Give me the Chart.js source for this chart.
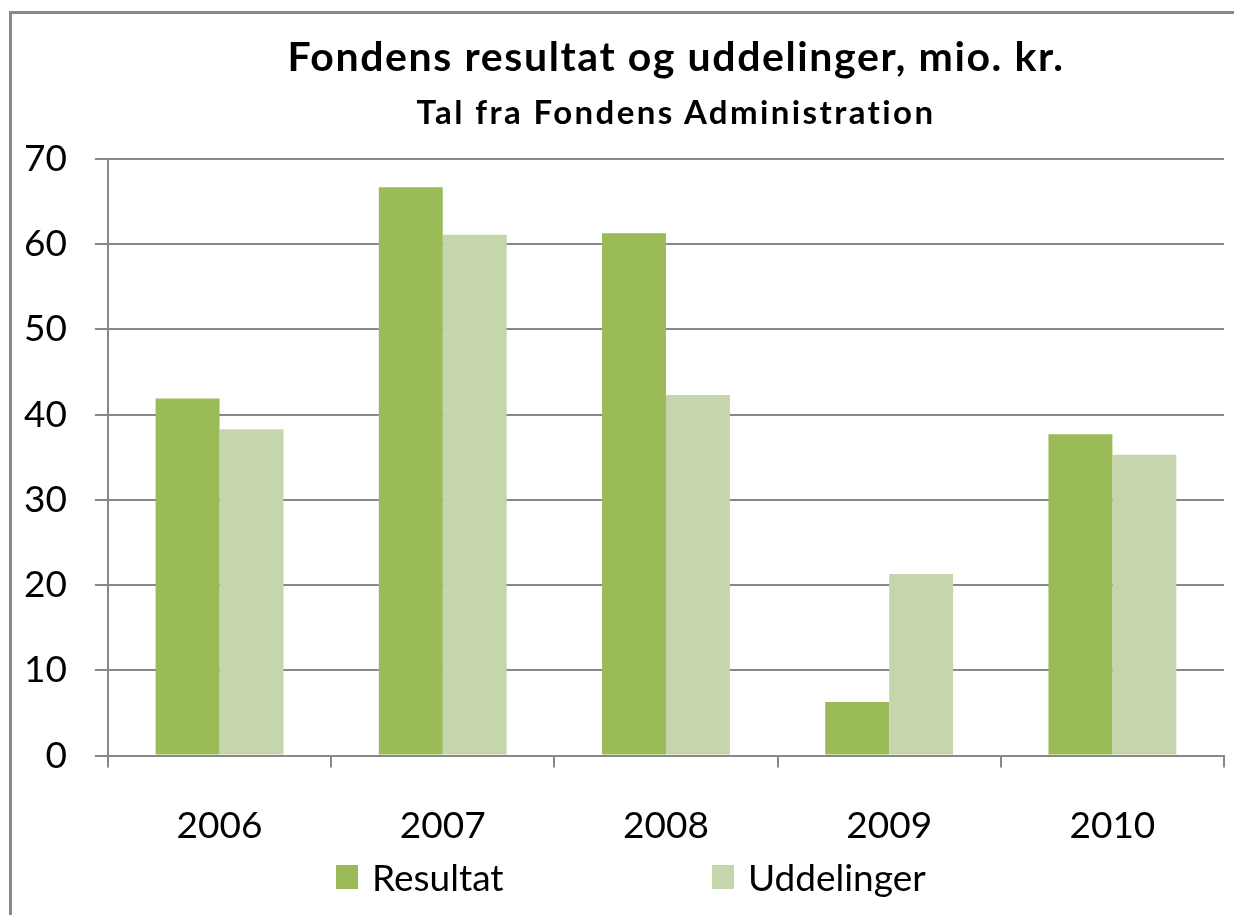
<!DOCTYPE html>
<html lang="da">
<head>
  <meta charset="UTF-8" />
  <title>Fondens resultat og uddelinger</title>
  <script src="https://cdn.jsdelivr.net/npm/chart.js"></script>
  <style>
    body { margin: 0; background: #fff; font-family: Lato, sans-serif; }
    #wrap { position: relative; width: 1234px; height: 915px; overflow: hidden; }
    #frame { position: absolute; left: 9px; top: 11px; width: 1300px; height: 1000px;
             border-left: 3px solid #888; border-top: 3px solid #888; }
    .ttl { position: absolute; left: 0; width: 1352px; text-align: center; font-weight: bold; color: #000; white-space: nowrap; }
    #t1 { top: 31px; font-size: 41px; letter-spacing: 1.6px; }
    #t2 { top: 91px; font-size: 33px; letter-spacing: 2.4px; }
    #box { position: absolute; left: 0; top: 0; width: 1234px; height: 915px; }
    .leg { position: absolute; top: 853px; font-size: 37px; line-height: 48px; color: #000; white-space: nowrap; }
    .leg i { position: absolute; top: 12px; width: 22px; height: 24px; }
    .leg span { position: absolute; left: 36px; top: 0; }
  </style>
</head>
<body>
  <div id="wrap">
    <div id="frame"></div>
    <div id="box"><canvas id="chart"></canvas></div>
    <div class="ttl" id="t1">Fondens resultat og uddelinger, mio. kr.</div>
    <div class="ttl" id="t2">Tal fra Fondens Administration</div>
    <div id="legend"></div>
  </div>
  <script>
    const years = ['2006', '2007', '2008', '2009', '2010'];
    const resultat = [41.9, 66.7, 61.3, 6.3, 37.7];
    const uddelinger = [38.3, 61.1, 42.3, 21.3, 35.3];
    const yTicks = [0, 10, 20, 30, 40, 50, 60, 70];
    const seriesNames = ['Resultat', 'Uddelinger'];
    const seriesColors = ['#9BBB59', '#C6D6AC'];
    const legendX = [336, 712];

    Chart.defaults.font.family = 'Lato, sans-serif';
    Chart.defaults.color = '#000';

    const chart = new Chart(document.getElementById('chart'), {
      type: 'bar',
      data: {
        labels: years,
        datasets: [
          { label: seriesNames[0], data: resultat, backgroundColor: seriesColors[0] },
          { label: seriesNames[1], data: uddelinger, backgroundColor: seriesColors[1] }
        ]
      },
      options: {
        responsive: true,
        maintainAspectRatio: false,
        animation: false,
        datasets: { bar: { categoryPercentage: 0.573, barPercentage: 1 } },
        layout: { padding: { left: -4, right: 10, top: 159, bottom: 31 } },
        scales: {
          x: {
            grid: { drawOnChartArea: false, drawTicks: true, tickLength: 12, color: '#888', lineWidth: 2, offset: true },
            border: { color: '#888', width: 2 },
            ticks: { font: { size: 37 }, padding: 36 }
          },
          y: {
            min: 0, max: 70,
            afterBuildTicks: axis => { axis.ticks = yTicks.map(v => ({ value: v })); },
            grid: { color: '#888', lineWidth: 2, tickLength: 13 },
            border: { color: '#888', width: 2 },
            ticks: { font: { size: 37 }, padding: 28 }
          }
        },
        plugins: {
          legend: { display: false },
          title: { display: false },
          tooltip: { enabled: false }
        }
      }
    });

    // legend built from the datasets, laid out like the original
    const legend = document.getElementById('legend');
    chart.data.datasets.forEach((ds, i) => {
      const el = document.createElement('div');
      el.className = 'leg';
      el.style.left = legendX[i] + 'px';
      el.innerHTML = '<i style="background:' + ds.backgroundColor + '"></i><span>' + ds.label + '</span>';
      legend.appendChild(el);
    });
  </script>
</body>
</html>
